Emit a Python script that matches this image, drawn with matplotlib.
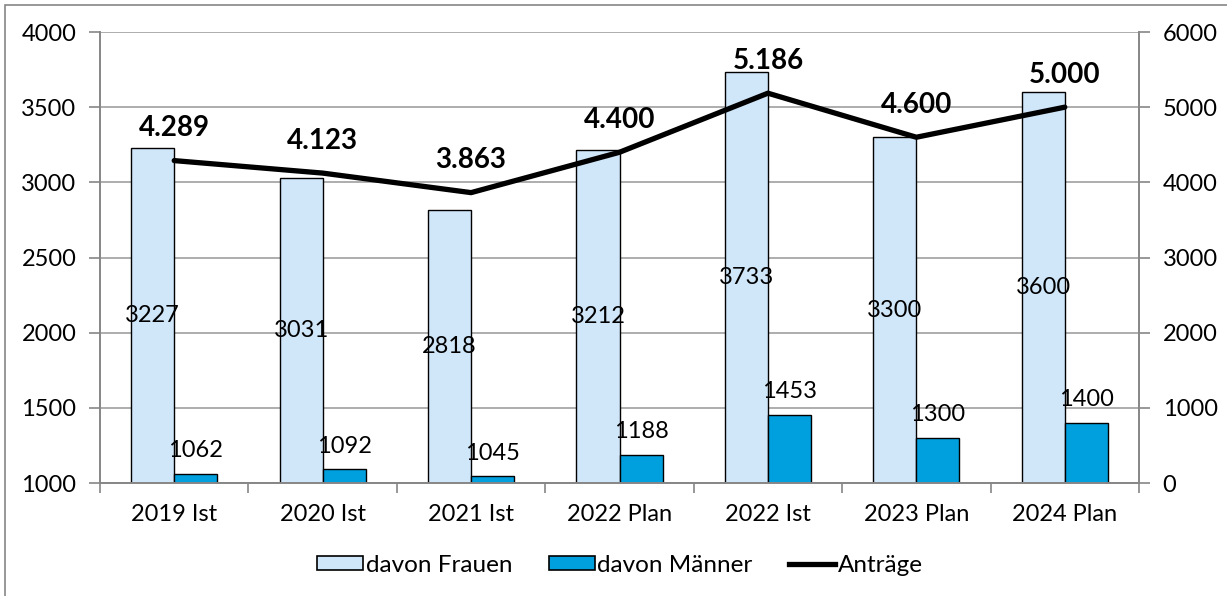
import matplotlib
matplotlib.use("Agg")
import matplotlib.pyplot as plt
import numpy as np
from matplotlib.patches import Rectangle
from matplotlib.lines import Line2D

plt.rcParams['font.family'] = ['Lato', 'DejaVu Sans']

# data
categories = ["2019 Ist", "2020 Ist", "2021 Ist", "2022 Plan", "2022 Ist", "2023 Plan", "2024 Plan"]
frauen = [3227, 3031, 2818, 3212, 3733, 3300, 3600]
maenner = [1062, 1092, 1045, 1188, 1453, 1300, 1400]
antraege = [4289, 4123, 3863, 4400, 5186, 4600, 5000]

C_FRAUEN = "#d0e6f9"
C_MAENNER = "#00a0df"
C_GRID = "#a0a0a0"
C_SPINE = "#868686"
BAR_W = 0.29

fig = plt.figure(figsize=(12.27, 5.96), dpi=100)
# outer frame (only left/top visible in the reference)
fig.patches.append(Rectangle((5 / 1227, -0.01), 1.1, 1 - 5 / 596 + 0.01,
                             transform=fig.transFigure, fill=False,
                             edgecolor=C_SPINE, linewidth=1.2))

ax = fig.add_axes([100 / 1227, 1 - 483 / 596, 1039 / 1227, (483 - 32) / 596])
x = np.arange(len(categories))

b1 = ax.bar(x - BAR_W / 2, frauen, width=BAR_W, color=C_FRAUEN,
            edgecolor="black", linewidth=1.0, zorder=2)
b2 = ax.bar(x + BAR_W / 2, maenner, width=BAR_W, color=C_MAENNER,
            edgecolor="black", linewidth=1.0, zorder=2)

ax.set_xlim(-0.5, len(categories) - 0.5)
ax.set_ylim(1000, 4000)
ax.set_yticks(np.arange(1000, 4001, 500))
ax.grid(axis="y", color=C_GRID, linewidth=1.2, zorder=0)
ax.set_axisbelow(True)

# category labels between boundary ticks
ax.set_xticks(np.arange(-0.5, len(categories), 1.0))
ax.set_xticklabels([])
ax.set_xticks(x, minor=True)
ax.set_xticklabels(categories, minor=True, fontsize=17)
ax.tick_params(axis="x", which="minor", length=0, pad=15)
ax.tick_params(axis="x", which="major", length=7, color=C_SPINE, width=1.2)
ax.tick_params(axis="y", length=8, color=C_SPINE, width=1.2, labelsize=17, pad=9)

for s in ["left", "right", "bottom"]:
    ax.spines[s].set_color(C_SPINE)
    ax.spines[s].set_linewidth(1.2)
ax.spines["top"].set_visible(False)

# value labels
for xi, v in zip(x, frauen):
    ax.text(xi - BAR_W / 2, (1000 + v) / 2, f"{v}", ha="center", va="center",
            fontsize=17, zorder=4)
for xi, v in zip(x, maenner):
    ax.annotate(f"{v}", (xi + BAR_W / 2, v), xytext=(0, 12), textcoords="offset points",
                ha="center", va="baseline", fontsize=17, zorder=4)

ax2 = ax.twinx()
ax2.plot(x, antraege, color="black", linewidth=3.8, solid_capstyle="round", zorder=3)
ax2.set_ylim(0, 6000)
ax2.set_yticks(np.arange(0, 6001, 1000))
ax2.tick_params(axis="y", length=8, color=C_SPINE, width=1.2, labelsize=17, pad=9)
for s in ["left", "right", "bottom"]:
    ax2.spines[s].set_color(C_SPINE)
    ax2.spines[s].set_linewidth(1.2)
ax2.spines["top"].set_visible(False)

for xi, v in zip(x, antraege):
    lbl = f"{v:,}".replace(",", ".")
    ax2.annotate(lbl, (xi, v), xytext=(0, 17.5), textcoords="offset points",
                 ha="center", va="baseline", fontsize=20, fontweight="bold", zorder=5)

handles = [
    Rectangle((0, 0), 1, 1, facecolor=C_FRAUEN, edgecolor="black", linewidth=1.2),
    Rectangle((0, 0), 1, 1, facecolor=C_MAENNER, edgecolor="black", linewidth=1.2),
    Line2D([0], [0], color="black", linewidth=3.8),
]
fig.legend(handles, ["davon Frauen", "davon Männer", "Anträge"], loc="center",
           bbox_to_anchor=(620 / 1227, 1 - 565 / 596), ncol=3, frameon=False,
           fontsize=17.5, handlelength=1.9, handleheight=0.55, handletextpad=0.1,
           columnspacing=1.5)

fig.savefig("out.png", dpi=100)
